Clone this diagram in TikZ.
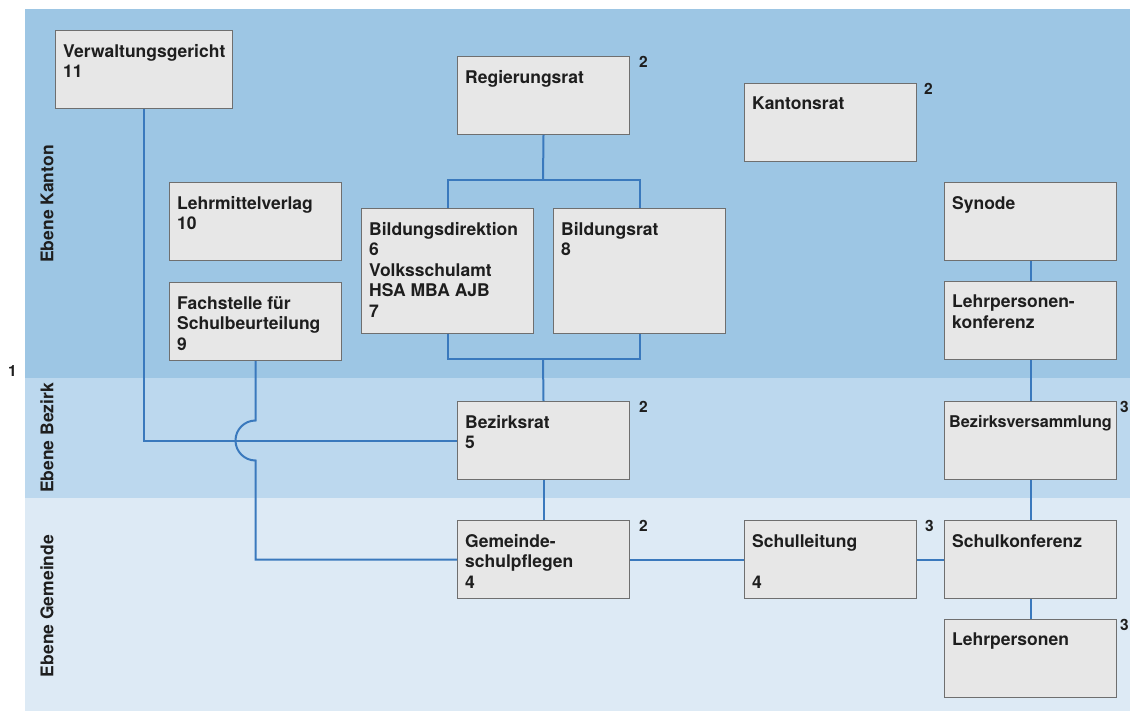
\documentclass[tikz,border=0pt]{standalone}
\usepackage{fontspec}
\setmainfont{TeX Gyre Heros}
\definecolor{kanton}{HTML}{9DC6E4}
\definecolor{bezirk}{HTML}{BCD8EE}
\definecolor{gemeinde}{HTML}{DDEAF5}
\definecolor{boxfill}{HTML}{E7E7E7}
\definecolor{boxline}{HTML}{6F6F6F}
\definecolor{linkcol}{HTML}{3A79BD}
\definecolor{inkcol}{HTML}{1E1E1E}
\tikzset{
  orgbox/.style={draw=boxline,fill=boxfill,line width=1pt,minimum width=172pt,minimum height=78pt,anchor=north west,inner sep=0pt},
  boxtext/.style={anchor=north west,align=left,inner sep=0pt,xshift=8pt,yshift=-14pt,text=inkcol,font=\fontsize{17.5}{20.5}\selectfont\bfseries},
  numtag/.style={anchor=north west,inner sep=0pt,text=inkcol,font=\fontsize{15.5}{15.5}\selectfont\bfseries},
  levelname/.style={rotate=90,inner sep=0pt,text=inkcol,font=\fontsize{17.5}{20}\selectfont\bfseries},
  link/.style={draw=linkcol,line width=2pt}
}
\begin{document}
\begin{tikzpicture}[x=1pt,y=-1pt]
			\useasboundingbox (0,0) rectangle (1130,711);
			\fill[kanton]   (25,9)   rectangle (1130,378);
			\fill[bezirk]   (25,378) rectangle (1130,498);
			\fill[gemeinde] (25,498) rectangle (1130,711);
			
			\node[levelname] (lvKanton)   at (47,204) {Ebene Kanton};
			\node[levelname] (lvBezirk)   at (47,438) {Ebene Bezirk};
			\node[levelname] (lvGemeinde) at (47,606) {Ebene Gemeinde};
			\node[numtag,anchor=base west] (lvNote) at (8,377) {1};
			
			\begin{scope}[every node/.style={orgbox}]
			\node[minimum width=177pt] (verw) at (55,30) 	{};
			\node (lehrmittel) at (169,182) 	{};
			\node (fach) 	at (169,282) 	{};
			
			\node (regrat) 	at (457,56) 	{};
			\node[minimum height=125pt] (bilddir) at (361,208) 	{};
			\node[minimum height=125pt] (bildrat) at (553,208) 	{};
			\node (kantonsrat) at (744,83) 	{};
			
			\node (synode) 	at (944,182) 	{};
			\node (lpk) 	at (944,281) 	{};
			
			\node (bezrat) 	at (457,401) 	{};
			\node (bezvers) at (944,401) 	{};
			
			\node (gsp) 	at (457,520) 	{};
			\node (schulleitung) at (744,520) {};
			\node (schulkonf) at (944,520) 	{};
			\node (lehrp) 	at (944,619) 	{};
			\end{scope}
			
			\node[boxtext] (verw-t) at (verw.north west) {Verwaltungsgericht\\11};
			\node[boxtext] (lehrmittel-t) at (lehrmittel.north west) {Lehrmittelverlag\\10};
			\node[boxtext] (fach-t) at (fach.north west) {Fachstelle für\\Schulbeurteilung\\9};
			\node[boxtext] (regrat-t) at (regrat.north west) {Regierungsrat};
			\node[boxtext] (bilddir-t) at (bilddir.north west) {Bildungsdirektion\\6\\Volksschulamt\\HSA MBA AJB\\7};
			\node[boxtext] (bildrat-t) at (bildrat.north west) {Bildungsrat\\8};
			\node[boxtext] (kantonsrat-t) at (kantonsrat.north west) {Kantonsrat};
			\node[boxtext] (synode-t) at (synode.north west) {Synode};
			\node[boxtext] (lpk-t) at (lpk.north west) {Lehrpersonen-\\konferenz};
			\node[boxtext] (bezrat-t) at (bezrat.north west) {Bezirksrat\\5};
			\node[boxtext,xshift=-3pt,font=\fontsize{16.2}{20.5}\selectfont\bfseries] (bezvers-t) at (bezvers.north west) {Bezirksversammlung};
			\node[boxtext] (gsp-t) at (gsp.north west) {Gemeinde-\\schulpflegen\\4};
			\node[boxtext] (schulleitung-t) at (schulleitung.north west) {Schulleitung\\[20.5pt]4};
			\node[boxtext] (schulkonf-t) at (schulkonf.north west) {Schulkonferenz};
			\node[boxtext] (lehrp-t) at (lehrp.north west) {Lehrpersonen};
			
			\node[numtag] (regrat-n) at ([xshift=9pt]regrat.north east) {2};
			\node[numtag] (kantonsrat-n) at ([xshift=7pt]kantonsrat.north east) {2};
			\node[numtag] (bezrat-n) at ([xshift=9pt]bezrat.north east) {2};
			\node[numtag] (gsp-n) at ([xshift=9pt]gsp.north east) {2};
			\node[numtag] (schulleitung-n) at ([xshift=8pt]schulleitung.north east) {3};
			\node[numtag] (bezvers-n) at ([xshift=3pt]bezvers.north east) {3};
			\node[numtag] (lehrp-n) at ([xshift=3pt]lehrp.north east) {3};
			
			\coordinate (splitTop) at (543,180);
			\coordinate (splitBot) at (543,359);
			\coordinate (hop) at (fach.south |- bezrat.west);
			
			\path [link] (regrat.south) edge (splitTop);
			\draw [link] (bilddir.north) |- (splitTop) -| (bildrat.north);
			\draw [link] (bilddir.south) |- (splitBot) -| (bildrat.south);
			\path [link] (splitBot) edge (bezrat.north);
			
			\draw [link] (verw.south) |- (bezrat.west);
			\draw [link] (fach.south) -- ([yshift=20pt]hop) arc[start angle=90,end angle=270,radius=20pt] |- (gsp.west);
			
			\path [link] (bezrat.south) edge (gsp.north);
			\path [link] (gsp.east) edge (schulleitung.west);
			\path [link] (schulleitung.east) edge (schulkonf.west);
			
			\path [link] (synode.south) edge (lpk.north);
			\path [link] (lpk.south) edge (bezvers.north);
			\path [link] (bezvers.south) edge (schulkonf.north);
			\path [link] (schulkonf.south) edge (lehrp.north);
\end{tikzpicture}
\end{document}
